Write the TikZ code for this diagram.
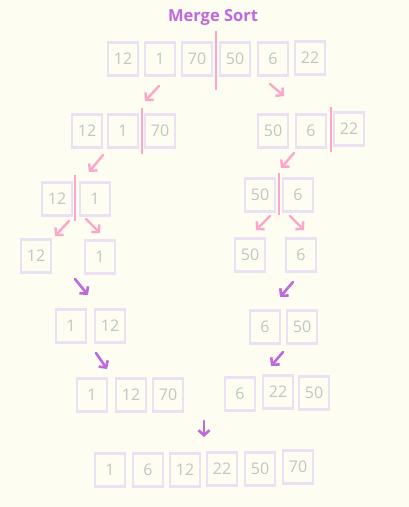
\documentclass[tikz,border=0pt]{standalone}
\usepackage{fontspec}
\setmainfont{Open Sans}
\usetikzlibrary{arrows.meta, positioning}
\definecolor{paper}{RGB}{253,253,241}
\definecolor{cellborder}{RGB}{236,224,243}
\definecolor{cellnum}{RGB}{196,196,196}
\definecolor{splitpink}{RGB}{255,166,200}
\definecolor{mergepurple}{RGB}{192,104,220}

\begin{document}
\begin{tikzpicture}[
    x=1pt, y=-1pt,
    cell/.style={draw=cellborder, line width=2.8pt, minimum width=30pt, minimum height=33pt, inner sep=0pt, text=cellnum, font=\fontsize{16}{18}\selectfont},
    split/.style={splitpink, line width=2.4pt},
    splitarrow/.style={-{Straight Barb[length=5pt, width=11pt]}, splitpink, line width=2.4pt, line cap=round},
    mergearrow/.style={-{Straight Barb[length=5pt, width=11pt]}, mergepurple, line width=2.6pt, line cap=round}
]
    \fill[paper] (0,0) rectangle (409,507);
    \useasboundingbox (0,0) rectangle (409,507);

    % Title
    \node[font=\fontsize{16.5}{18}\selectfont\bfseries, text=mergepurple] (title) at (213,18) {Merge Sort};

    % Input array
    \node[cell] (a1) at (123,59) {12};
    \node[cell] (a2) at (160,59) {1};
    \node[cell] (a3) at (197,59) {70};
    \node[cell] (a4) at (235,59) {50};
    \node[cell] (a5) at (273,59) {6};
    \node[cell] (a6) at (310,58) {22};
    \draw[split] (216,31) -- (216,90);

    % First split
    \node[cell] (l1) at (87,131) {12};
    \node[cell] (l2) at (123,131) {1};
    \node[cell] (l3) at (160,131) {70};
    \draw[split] (142,108) -- (142,154);
    \node[cell] (r1) at (273,131) {50};
    \node[cell] (r2) at (311,131) {6};
    \node[cell] (r3) at (349,129) {22};
    \draw[split] (331,107) -- (331,152);

    % Second split
    \node[cell] (ll1) at (57,199) {12};
    \node[cell] (ll2) at (95,199) {1};
    \draw[split] (75,175) -- (75,221);
    \node[cell] (rl1) at (260,195) {50};
    \node[cell] (rl2) at (298,195) {6};
    \draw[split] (279,173) -- (279,215);

    % Single elements
    \node[cell] (s1) at (36,256) {12};
    \node[cell] (s2) at (100,257) {1};
    \node[cell] (s3) at (250,255) {50};
    \node[cell] (s4) at (301,255) {6};

    % First merge
    \node[cell] (m1) at (71,326) {1};
    \node[cell] (m2) at (110,326) {12};
    \node[cell] (m3) at (265,327) {6};
    \node[cell] (m4) at (302,327) {50};

    % Second merge
    \node[cell] (n1) at (92,395) {1};
    \node[cell] (n2) at (131,395) {12};
    \node[cell] (n3) at (168,395) {70};
    \node[cell] (n4) at (240,394) {6};
    \node[cell] (n5) at (278,392) {22};
    \node[cell] (n6) at (314,393) {50};

    % Sorted array
    \node[cell] (f1) at (110,470) {1};
    \node[cell] (f2) at (148,470) {6};
    \node[cell] (f3) at (185,470) {12};
    \node[cell] (f4) at (222,469) {22};
    \node[cell] (f5) at (260,469) {50};
    \node[cell] (f6) at (298,467) {70};

    % Arrow ends
    \coordinate (p1s) at (159,86);  \coordinate (p1e) at (145,101);
    \coordinate (p2s) at (270,84);  \coordinate (p2e) at (284,96);
    \coordinate (p3s) at (103,155); \coordinate (p3e) at (89,172);
    \coordinate (p4s) at (294,153); \coordinate (p4e) at (281,168);
    \coordinate (p5s) at (69,221);  \coordinate (p5e) at (55,236);
    \coordinate (p6s) at (86,219);  \coordinate (p6e) at (100,233);
    \coordinate (p7s) at (270,216); \coordinate (p7e) at (256,230);
    \coordinate (p8s) at (290,216); \coordinate (p8e) at (304,230);
    \coordinate (q1s) at (75,279);  \coordinate (q1e) at (88,295);
    \coordinate (q2s) at (293,282); \coordinate (q2e) at (280,297);
    \coordinate (q3s) at (96,353);  \coordinate (q3e) at (107,369);
    \coordinate (q4s) at (283,352); \coordinate (q4e) at (271,366);
    \coordinate (q5s) at (204,421); \coordinate (q5e) at (204,437);

    % Split arrows
    \draw[splitarrow] (p1s) -- (p1e);
    \draw[splitarrow] (p2s) -- (p2e);
    \draw[splitarrow] (p3s) -- (p3e);
    \draw[splitarrow] (p4s) -- (p4e);
    \draw[splitarrow] (p5s) -- (p5e);
    \draw[splitarrow] (p6s) -- (p6e);
    \draw[splitarrow] (p7s) -- (p7e);
    \draw[splitarrow] (p8s) -- (p8e);

    % Merge arrows
    \draw[mergearrow] (q1s) -- (q1e);
    \draw[mergearrow] (q2s) -- (q2e);
    \draw[mergearrow] (q3s) -- (q3e);
    \draw[mergearrow] (q4s) -- (q4e);
    \draw[mergearrow] (q5s) -- (q5e);
\end{tikzpicture}
\end{document}
